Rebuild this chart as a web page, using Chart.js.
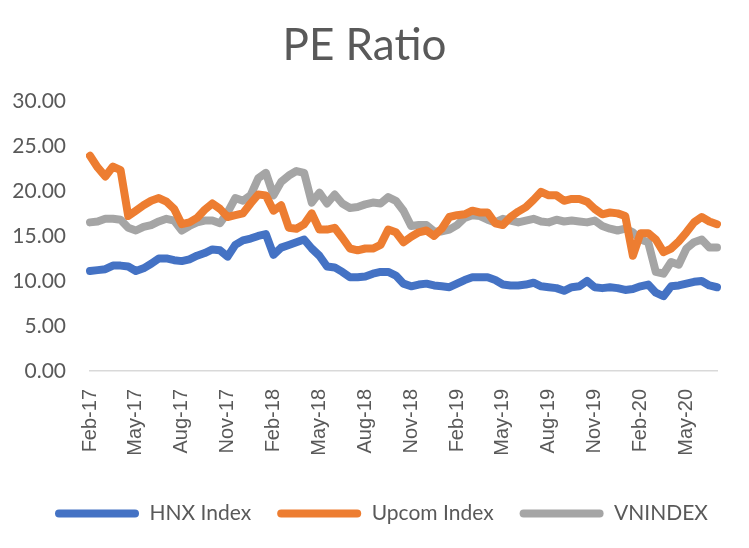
<!DOCTYPE html>
<html>
<head>
<meta charset="utf-8">
<script src="https://cdn.jsdelivr.net/npm/chart.js@4.4.1/dist/chart.umd.min.js"></script>
<style>
	body { margin: 0; background: #fff; }
	#wrap { width: 749px; height: 548px; }
</style>
</head>
<body>
<div id="wrap"><canvas id="main-chart" width="749" height="548"></canvas></div>
<script>
// semi-monthly observations, Feb 2017 - Jul 2020
var dates = [
	'2017-02-01','2017-02-15','2017-03-01','2017-03-15','2017-04-01','2017-04-15',
	'2017-05-01','2017-05-15','2017-06-01','2017-06-15','2017-07-01','2017-07-15',
	'2017-08-01','2017-08-15','2017-09-01','2017-09-15','2017-10-01','2017-10-15',
	'2017-11-01','2017-11-15','2017-12-01','2017-12-15','2018-01-01','2018-01-15',
	'2018-02-01','2018-02-15','2018-03-01','2018-03-15','2018-04-01','2018-04-15',
	'2018-05-01','2018-05-15','2018-06-01','2018-06-15','2018-07-01','2018-07-15',
	'2018-08-01','2018-08-15','2018-09-01','2018-09-15','2018-10-01','2018-10-15',
	'2018-11-01','2018-11-15','2018-12-01','2018-12-15','2019-01-01','2019-01-15',
	'2019-02-01','2019-02-15','2019-03-01','2019-03-15','2019-04-01','2019-04-15',
	'2019-05-01','2019-05-15','2019-06-01','2019-06-15','2019-07-01','2019-07-15',
	'2019-08-01','2019-08-15','2019-09-01','2019-09-15','2019-10-01','2019-10-15',
	'2019-11-01','2019-11-15','2019-12-01','2019-12-15','2020-01-01','2020-01-15',
	'2020-02-01','2020-02-15','2020-03-01','2020-03-15','2020-04-01','2020-04-15',
	'2020-05-01','2020-05-15','2020-06-01','2020-06-15','2020-07-01'
];

// shown every 6th point (quarter starts)
var tickLabels = ['Feb-17','May-17','Aug-17','Nov-17','Feb-18','May-18','Aug-18',
	'Nov-18','Feb-19','May-19','Aug-19','Nov-19','Feb-20','May-20'];

var hnx = [
	11.1,11.2,11.3,11.7,11.7,11.6, 11.1,11.4,11.9,12.5,12.5,12.3,
	12.2,12.4,12.8,13.1,13.5,13.4, 12.7,14.0,14.5,14.7,15.0,15.2,
	12.9,13.7,14.0,14.3,14.6,13.6, 12.8,11.6,11.5,11.0,10.4,10.4,
	10.5,10.8,11.0,11.0,10.6,9.7, 9.4,9.6,9.7,9.5,9.4,9.3,
	9.7,10.1,10.4,10.4,10.4,10.1, 9.6,9.5,9.5,9.6,9.8,9.4,
	9.3,9.2,8.9,9.3,9.4,10.0, 9.3,9.2,9.3,9.2,9.0,9.1,
	9.4,9.6,8.7,8.3,9.4,9.5, 9.7,9.9,10.0,9.5,9.3
];

var upcom = [
	23.9,22.6,21.6,22.7,22.3,17.2, 17.8,18.4,18.9,19.2,18.8,18.0,
	16.3,16.5,17.0,17.9,18.6,18.0, 17.1,17.3,17.5,18.6,19.6,19.5,
	17.8,18.4,15.9,15.8,16.3,17.5, 15.7,15.7,15.9,14.8,13.6,13.4,
	13.6,13.6,14.0,15.7,15.4,14.3, 14.9,15.4,15.6,15.0,15.8,17.1,
	17.3,17.4,17.8,17.6,17.6,16.4, 16.2,17.1,17.7,18.2,19.0,19.9,
	19.5,19.5,18.9,19.1,19.1,18.8, 18.0,17.4,17.6,17.5,17.2,12.8,
	15.3,15.3,14.6,13.2,13.6,14.4, 15.4,16.5,17.1,16.6,16.3
];

var vnindex = [
	16.5,16.6,16.9,16.9,16.8,15.9, 15.6,16.0,16.2,16.6,16.9,16.7,
	15.6,16.1,16.5,16.7,16.7,16.4, 17.6,19.2,18.9,19.5,21.4,22.0,
	19.5,21.0,21.7,22.2,22.0,18.7, 19.8,18.6,19.6,18.6,18.1,18.2,
	18.5,18.7,18.6,19.3,18.9,17.8, 16.1,16.2,16.2,15.5,15.5,15.7,
	16.2,17.0,17.3,17.2,16.8,16.5, 16.9,16.7,16.5,16.7,16.9,16.6,
	16.5,16.8,16.6,16.7,16.6,16.5, 16.7,16.1,15.8,15.6,15.8,15.4,
	14.6,14.3,11.0,10.8,12.1,11.8, 13.6,14.3,14.6,13.7,13.7
];

var textColor = '#595959';

function series(label, values, color) {
	return {
		label: label,
		data: values,
		borderColor: color,
		backgroundColor: color,
		borderWidth: 8,
		borderCapStyle: 'round',
		borderJoinStyle: 'round',
		pointRadius: 0,
		tension: 0
	};
}

// legend sits a little right of centre in the original
var legendShift = {
	id: 'legendShift',
	afterLayout: function(chart) {
		chart.legend.left += 17;
		chart.legend.right += 17;
	}
};

var ctx = document.getElementById('main-chart');
var chart = new Chart(ctx, {
	type: 'line',
	data: {
		labels: dates,
		datasets: [
			series('HNX Index', hnx, '#4472C4'),
			series('Upcom Index', upcom, '#ED7D31'),
			series('VNINDEX', vnindex, '#A5A5A5')
		]
	},
	plugins: [legendShift],
	options: {
		responsive: false,
		animation: false,
		layout: { padding: { left: 12, right: 32, top: 0, bottom: 14 } },
		plugins: {
			tooltip: { enabled: false },
			title: {
				display: true,
				text: 'PE Ratio',
				color: textColor,
				font: { family: 'Lato', size: 44, weight: 'normal' },
				padding: { top: 19, bottom: 29 }
			},
			legend: {
				position: 'bottom',
				labels: {
					color: textColor,
					font: { family: 'Lato', size: 21 },
					boxWidth: 84,
					boxHeight: 8,
					padding: 26,
					useBorderRadius: true,
					borderRadius: 4,
					generateLabels: function(c) {
						// solid swatches, no outline
						var items = Chart.defaults.plugins.legend.labels.generateLabels(c);
						items.forEach(function(it) {
							it.lineWidth = 0;
							it.fillStyle = it.strokeStyle;
						});
						return items;
					}
				}
			}
		},
		scales: {
			x: {
				offset: false,
				grid: { display: false, drawTicks: false },
				border: { display: true, color: '#D9D9D9', width: 1.5 },
				ticks: {
					autoSkip: false,
					minRotation: 90,
					maxRotation: 90,
					color: textColor,
					font: { family: 'Liberation Sans', size: 20 },
					padding: 18,
					callback: function(v, i) {
						return i % 6 === 0 ? tickLabels[i / 6] : null;
					}
				},
				afterFit: function(scale) {
					// leave room between the date labels and the legend
					scale.height = 106;
					scale.paddingLeft = 0;
					scale.paddingRight = 0;
				}
			},
			y: {
				min: 0,
				max: 30,
				grid: { display: false, drawTicks: false },
				border: { display: false },
				ticks: {
					stepSize: 5,
					color: textColor,
					font: { family: 'Lato', size: 21 },
					padding: 24,
					callback: function(v) { return v.toFixed(2); }
				},
				afterFit: function(scale) {
					scale.width = 78;
				}
			}
		}
	}
});
</script>
</body>
</html>
